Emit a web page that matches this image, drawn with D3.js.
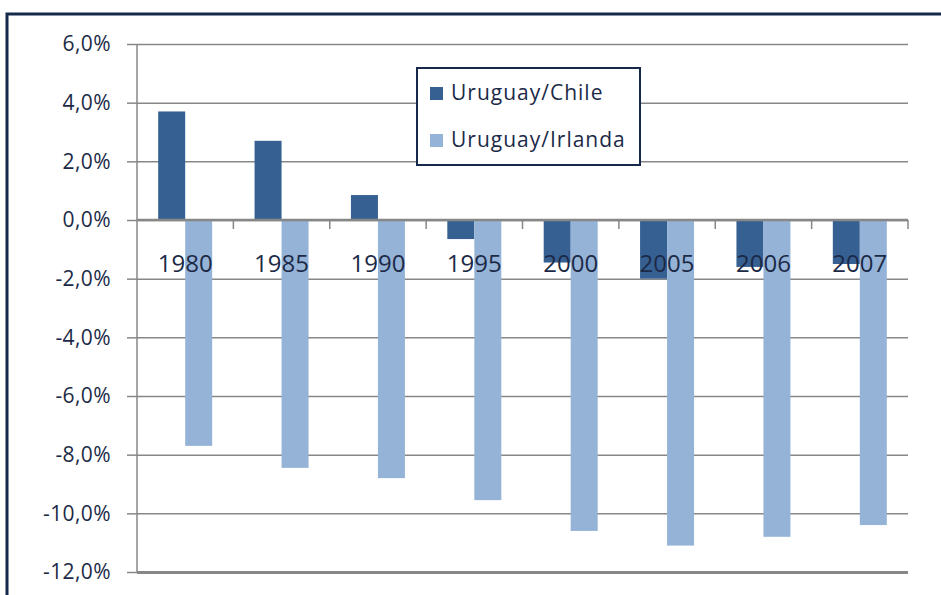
<!DOCTYPE html>
<html>
<head>
<meta charset="utf-8">
<script src="https://cdn.jsdelivr.net/npm/d3@7"></script>
<style>
  body { margin: 0; background: #fff; }
  svg { display: block; }
  text { font-family: "Open Sans", sans-serif; fill: #1c2a47; }
</style>
</head>
<body>
<svg width="941" height="595"></svg>
<script>
// data (percent)
var years = ["1980", "1985", "1990", "1995", "2000", "2005", "2006", "2007"];
var seriesNames = ["Uruguay/Chile", "Uruguay/Irlanda"];
var chileValues = [3.7, 2.7, 0.85, -0.65, -1.45, -2.0, -1.6, -1.5];
var irlandaValues = [-7.7, -8.45, -8.8, -9.55, -10.6, -11.1, -10.8, -10.4];
var yTicks = [6, 4, 2, 0, -2, -4, -6, -8, -10, -12];

var colors = ["#366092", "#95b3d7"];
var gridColor = "#878787";

var svg = d3.select("svg"),
    plotLeft = 137, plotRight = 908, plotTop = 44, plotBottom = 572;

var rows = years.map(function(y, i) {
    return { year: y, values: [chileValues[i], irlandaValues[i]] };
});

var x = d3.scaleBand().domain(years).range([plotLeft, plotRight]).paddingInner(0).paddingOuter(0);
var xs = d3.scaleBand().domain(seriesNames).range([0, x.bandwidth()]).paddingInner(0).paddingOuter(0.785);
var y = d3.scaleLinear().domain([-12, 6]).range([plotBottom, plotTop]);

function fmt(v) { return d3.format(".1f")(v).replace(".", ",").replace("−", "-") + "%"; }

// outer frame
svg.append("rect")
    .attr("x", 7).attr("y", 14)
    .attr("width", 960).attr("height", 620)
    .attr("fill", "none").attr("stroke", "#16294a").attr("stroke-width", 3);

// gridlines
var grid = svg.append("g").attr("transform", "translate(" + plotLeft + ",0)")
    .call(d3.axisLeft(y).tickValues(yTicks).tickSize(-(plotRight - plotLeft)).tickFormat(""));
grid.select(".domain").remove();
grid.selectAll(".tick line")
    .attr("stroke", gridColor)
    .attr("stroke-width", function(d) { return d === -12 ? 3 : 1.5; });

// y axis with labels
var yAxis = svg.append("g").attr("transform", "translate(" + plotLeft + ",0)")
    .call(d3.axisLeft(y).tickValues(yTicks).tickSize(10).tickPadding(16).tickFormat(fmt));
yAxis.select(".domain").attr("stroke", gridColor).attr("stroke-width", 1.5)
    .attr("d", "M0," + plotTop + "V" + plotBottom);
yAxis.selectAll(".tick line").attr("stroke", gridColor).attr("stroke-width", 1.5);
yAxis.selectAll(".tick text")
    .attr("font-family", null)
    .style("font-size", "21px")
    .style("letter-spacing", "0.4px")
    .attr("fill", "#1c2a47");

// bars
var groups = svg.append("g").selectAll("g")
    .data(rows).enter().append("g")
    .attr("transform", function(d) { return "translate(" + x(d.year) + ",0)"; });

groups.selectAll("rect")
    .data(function(d) { return d.values.map(function(v, i) { return { name: seriesNames[i], value: v, i: i }; }); })
    .enter().append("rect")
    .attr("x", function(d) { return xs(d.name); })
    .attr("width", xs.bandwidth())
    .attr("y", function(d) { return y(Math.max(0, d.value)); })
    .attr("height", function(d) { return Math.abs(y(d.value) - y(0)); })
    .attr("fill", function(d) { return colors[d.i]; });

// zero axis with category ticks
svg.append("line")
    .attr("x1", plotLeft).attr("x2", plotRight)
    .attr("y1", y(0)).attr("y2", y(0))
    .attr("stroke", gridColor).attr("stroke-width", 2.5);

svg.append("g").selectAll("line")
    .data(years)
    .enter().append("line")
    .attr("x1", function(d) { return x(d) + x.bandwidth(); })
    .attr("x2", function(d) { return x(d) + x.bandwidth(); })
    .attr("y1", y(0)).attr("y2", y(0) + 9)
    .attr("stroke", gridColor).attr("stroke-width", 1.5);

// category labels (drawn over the bars)
svg.append("g").selectAll("text")
    .data(years)
    .enter().append("text")
    .attr("x", function(d) { return x(d) + x.bandwidth() / 2; })
    .attr("y", 272)
    .attr("text-anchor", "middle")
    .style("font-size", "24px")
    .text(function(d) { return d; });

// legend
var legend = svg.append("g");
legend.append("rect")
    .attr("x", 417).attr("y", 68)
    .attr("width", 223).attr("height", 97)
    .attr("fill", "#fff").attr("stroke", "#16294a").attr("stroke-width", 2);

var item = legend.selectAll(".item")
    .data(seriesNames)
    .enter().append("g")
    .attr("class", "item")
    .attr("transform", function(d, i) { return "translate(430," + (87 + i * 47) + ")"; });

item.append("rect")
    .attr("width", 13).attr("height", 13)
    .attr("fill", function(d, i) { return colors[i]; });

item.append("text")
    .attr("x", 21).attr("y", 13)
    .style("font-size", "21px")
    .style("letter-spacing", "1px")
    .text(function(d) { return d; });
</script>
</body>
</html>
